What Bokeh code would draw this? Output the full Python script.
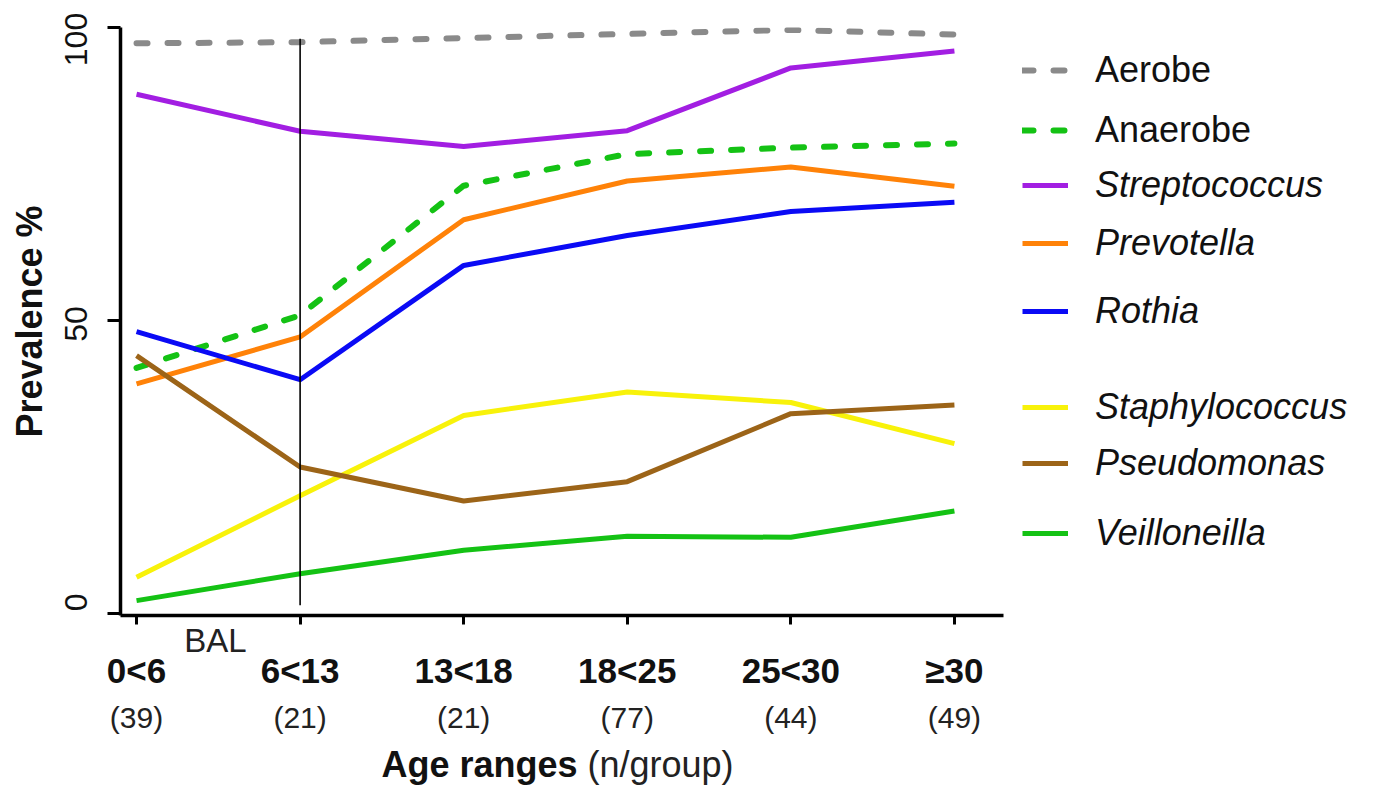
import math
from bokeh.plotting import figure
from bokeh.layouts import row, column
from bokeh.models import Range1d, FixedTicker, LinearAxis, Legend, LegendItem, Label
from bokeh.embed import file_html
from bokeh.resources import INLINE

# ---------------- data ----------------
age_ranges = ["0<6", "6<13", "13<18", "18<25", "25<30", "\u226530"]
group_sizes = ["(39)", "(21)", "(21)", "(77)", "(44)", "(49)"]
x_idx = [0, 1, 2, 3, 4, 5]

aerobe = [97.3, 97.5, 98.2, 98.9, 99.6, 98.8]
anaerobe = [41.9, 50.9, 73.0, 78.4, 79.5, 80.2]
streptococcus = [88.6, 82.3, 79.7, 82.4, 93.1, 96.0]
prevotella = [39.2, 47.2, 67.2, 73.8, 76.2, 72.9]
rothia = [48.1, 39.9, 59.4, 64.5, 68.6, 70.2]
staphylococcus = [6.2, 20.1, 33.8, 37.8, 36.0, 29.0]
pseudomonas = [44.0, 25.0, 19.2, 22.5, 34.1, 35.6]
veilloneilla = [2.2, 6.8, 10.8, 13.2, 13.0, 17.5]

y_ticks = [0, 50, 100]
y_tick_labels = ["0", "50", "100"]
bal_label_x = [0.483]
bal_divider_x = [1, 1]
bal_divider_y = [1.4, 98.1]

series_names = ["Aerobe", "Anaerobe", "Streptococcus", "Prevotella", "Rothia",
                "Staphylococcus", "Pseudomonas", "Veilloneilla"]
series_values = [aerobe, anaerobe, streptococcus, prevotella, rothia,
                 staphylococcus, pseudomonas, veilloneilla]
series_colors = ["#8a8a8a", "#14c214", "#a21ee2", "#ff8208", "#0a0af5",
                 "#f8f20a", "#9c6418", "#14c214"]
series_dashed = [True, True, False, False, False, False, False, False]
series_italic = [False, False, True, True, True, True, True, True]

FONT = "Liberation Sans"
# where the y tick labels sit (the reference pulls the end labels inward)
y_label_anchor = [1.9, 49.4, 97.95]


def line_style(col, dashed):
    if dashed:
        return dict(line_color=col, line_width=6, line_dash="11 20", line_cap="round")
    return dict(line_color=col, line_width=5, line_join="round")


# ---------------- main figure ----------------
x_rng = Range1d(-0.098, 5.30)
p = figure(width=1015, height=739, output_backend="svg", toolbar_location=None,
           title=None, x_range=x_rng, y_range=Range1d(-0.34, 100),
           min_border_left=120, min_border_right=12, min_border_top=27,
           min_border_bottom=124)
p.outline_line_color = None
p.xgrid.grid_line_color = None
p.ygrid.grid_line_color = None

for name, vals, col, dashed in zip(series_names, series_values, series_colors, series_dashed):
    p.line(x_idx, vals, **line_style(col, dashed))

p.line(bal_divider_x, bal_divider_y, line_color="black", line_width=1.6)

# axis A: axis line, tick marks (as minor ticks) and the "BAL" note
xa = p.xaxis[0]
xa.ticker = FixedTicker(ticks=bal_label_x, minor_ticks=x_idx)
xa.major_label_overrides = {bal_label_x[0]: "BAL"}
xa.axis_line_width = 3.5
xa.axis_line_color = "black"
xa.major_tick_line_color = None
xa.major_tick_out = 0
xa.major_tick_in = 0
xa.minor_tick_line_color = "black"
xa.minor_tick_line_width = 3
xa.minor_tick_out = 9
xa.minor_tick_in = 0
xa.major_label_text_font = FONT
xa.major_label_text_font_size = "33px"
xa.major_label_text_color = "#222222"
xa.major_label_standoff = -3

# axis B: bold age ranges
xb = LinearAxis(ticker=FixedTicker(ticks=x_idx),
                major_label_overrides={i: s for i, s in zip(x_idx, age_ranges)},
                axis_line_color=None, major_tick_line_color=None,
                minor_tick_line_color=None, major_tick_out=0, major_tick_in=0,
                major_label_standoff=-11, major_label_text_font=FONT,
                major_label_text_font_size="35px", major_label_text_font_style="bold",
                major_label_text_color="#111111")
p.add_layout(xb, "below")

# axis C: group sizes
xc = LinearAxis(ticker=FixedTicker(ticks=x_idx),
                major_label_overrides={i: s for i, s in zip(x_idx, group_sizes)},
                axis_line_color=None, major_tick_line_color=None,
                minor_tick_line_color=None, major_tick_out=0, major_tick_in=0,
                major_label_standoff=8, major_label_text_font=FONT,
                major_label_text_font_size="30px", major_label_text_color="#222222")
p.add_layout(xc, "below")

# y axis: line and ticks (its own labels are not drawn)
ya = p.yaxis[0]
ya.ticker = FixedTicker(ticks=y_ticks)
ya.axis_line_width = 3.5
ya.axis_line_color = "black"
ya.major_tick_line_width = 3
ya.major_tick_out = 13
ya.major_tick_in = 0
ya.minor_tick_line_color = None
ya.major_label_text_font_size = "1px"
ya.major_label_text_color = None
ya.major_label_standoff = 0

# y axis: tick labels and title
yb = LinearAxis(ticker=FixedTicker(ticks=y_label_anchor),
                major_label_overrides={a: s for a, s in zip(y_label_anchor, y_tick_labels)},
                axis_line_color=None, major_tick_line_color=None,
                minor_tick_line_color=None, major_tick_out=0, major_tick_in=0,
                major_label_orientation="vertical", major_label_standoff=20,
                major_label_text_font=FONT, major_label_text_font_size="32px",
                major_label_text_color="#111111",
                axis_label="Prevalence %", axis_label_text_font=FONT,
                axis_label_text_font_size="36px", axis_label_text_font_style="bold",
                axis_label_text_color="#111111", axis_label_standoff=13)
p.add_layout(yb, "left")

# ---------------- strip below: x axis title ----------------
strip = figure(width=1015, height=50, output_backend="svg", toolbar_location=None,
               title=None, x_range=x_rng, y_range=Range1d(0, 50),
               x_axis_location=None, y_axis_location=None,
               min_border_left=120, min_border_right=12, min_border_top=0,
               min_border_bottom=0)
strip.grid.visible = False
strip.outline_line_color = None
strip.add_layout(Label(x=2.696, y=25, text="Age ranges",
                       text_font=FONT, text_font_size="36px", text_font_style="bold",
                       text_align="right", text_baseline="alphabetic", text_color="#111111"))
strip.add_layout(Label(x=2.757, y=25, text="(n/group)",
                       text_font=FONT, text_font_size="36px", text_align="left",
                       text_baseline="alphabetic", text_color="#222222"))

# ---------------- legend panel ----------------
leg = figure(width=359, height=789, output_backend="svg", toolbar_location=None,
             title=None, x_range=Range1d(0, 1), y_range=Range1d(-2, -1),
             x_axis_location=None, y_axis_location=None,
             min_border_left=0, min_border_right=0, min_border_top=0, min_border_bottom=0)
leg.grid.visible = False
leg.outline_line_color = None

legend_centers = [70, 130, 185, 243, 311, 407, 463, 533]
item_h = 46
for name, vals, col, dashed, italic, c in zip(series_names, series_values, series_colors,
                                               series_dashed, series_italic, legend_centers):
    # same series, outside this panel's ranges: only its legend sample is seen
    sample = leg.line(x_idx, vals, **line_style(col, dashed))
    lg = Legend(items=[LegendItem(label=name, renderers=[sample])],
                location=(7, 789 - c - item_h // 2),
                padding=0, margin=0, border_line_color=None,
                background_fill_alpha=0, glyph_width=46, glyph_height=item_h,
                label_height=item_h, label_standoff=27,
                label_text_font=FONT, label_text_font_size="36px",
                label_text_font_style="italic" if italic else "normal",
                label_text_color="#111111")
    leg.add_layout(lg)

layout = row(column(p, strip, spacing=0), leg, spacing=0)
open("out.html", "w").write(file_html(layout, INLINE))
